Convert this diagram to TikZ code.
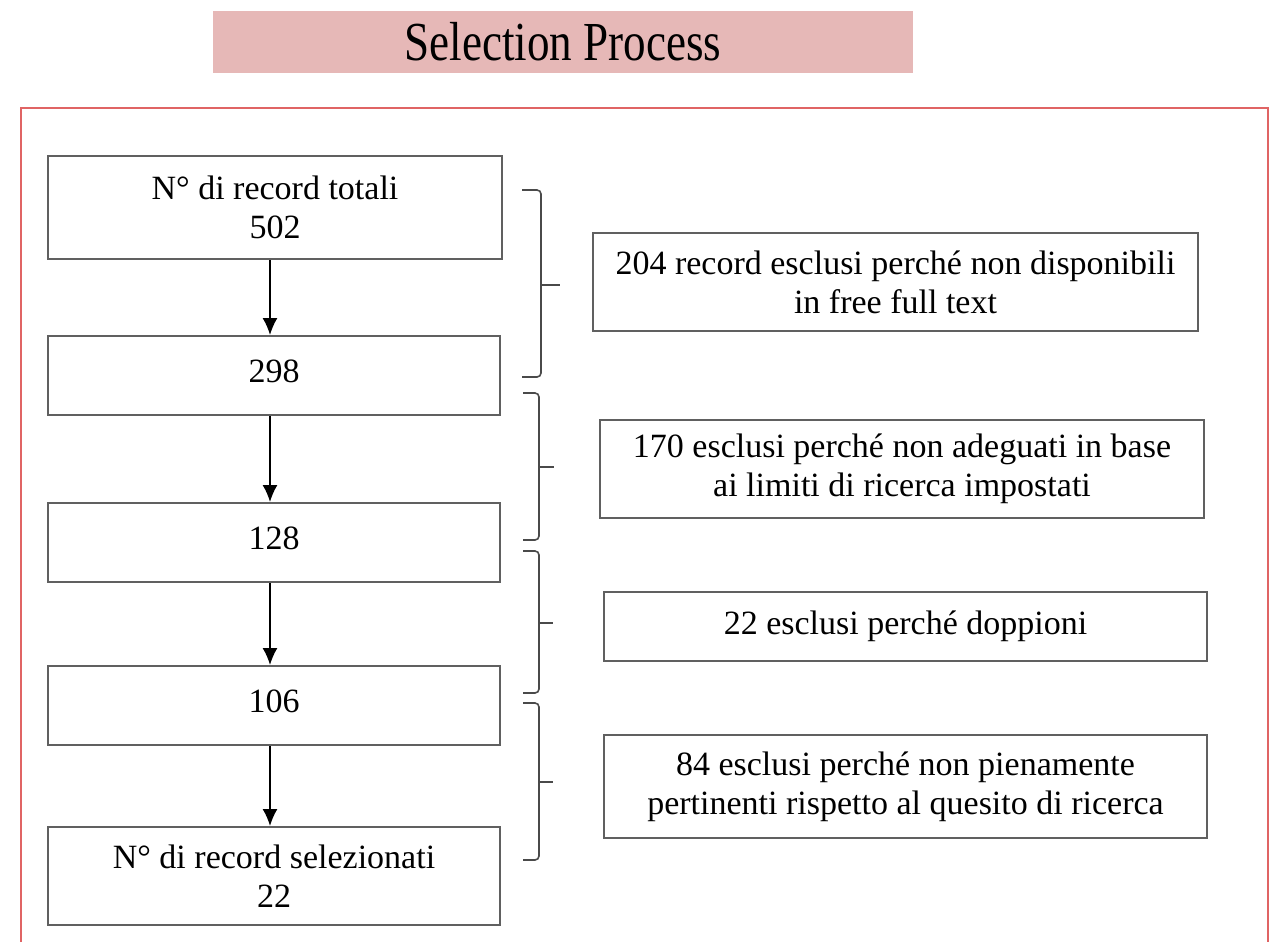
\documentclass[tikz,border=0pt]{standalone}
\usepackage{fontspec}
\setmainfont{Liberation Serif}
\usetikzlibrary{arrows.meta}
\definecolor{boxgray}{HTML}{606060}
\definecolor{bracegray}{HTML}{4A4A4A}
\definecolor{framered}{HTML}{E06464}
\definecolor{titlepink}{HTML}{E6B8B7}
\tikzset{
  recbox/.style={draw=boxgray, line width=1pt, align=center, inner sep=0pt,
    font=\fontsize{17}{19.5}\selectfont},
  numbox/.style={recbox, minimum width=226pt, minimum height=39.5pt, text depth=4pt},
}
\begin{document}
\begin{tikzpicture}[x=0.5pt,y=-0.5pt,>={Latex[length=8.5pt,width=7.5pt]}]
\useasboundingbox (0,0) rectangle (1277,942);
% title bar and frame
\node[fill=titlepink, minimum width=350pt, minimum height=31pt, inner sep=0pt] (title) at (563,42)
  {\scalebox{0.82}[1]{\fontsize{27.5}{30}\selectfont Selection Process}};
\draw[framered, line width=0.6pt] (21,942)--(21,108)--(1268,108)--(1268,942);

% left column
\node[recbox, minimum width=227pt, minimum height=51.5pt] (n0) at (275,207.5) {N° di record totali\\502};
\node[numbox] (n1) at (274,375.5) {298};
\node[numbox] (n2) at (274,542.5) {128};
\node[numbox] (n3) at (274,705.5) {106};
\node[recbox, minimum width=226pt, minimum height=49pt] (n4) at (274,876) {N° di record selezionati\\22};

\foreach \a/\b in {n0/n1,n1/n2,n2/n3,n3/n4}
{
    \draw[->, line width=0.8pt] ([xshift=-2pt]\b.north |- \a.south)--([xshift=-2pt]\b.north);
}

% excluded records
\node[recbox, minimum width=302.5pt, minimum height=49pt] (e0) at (895.5,282)
  {204 record esclusi perché non disponibili\\in free full text};
\node[recbox, minimum width=302pt, minimum height=49pt] (e1) at (902,469)
  {170 esclusi perché non adeguati in base\\ai limiti di ricerca impostati};
\node[recbox, minimum width=301.5pt, minimum height=34.5pt] (e2) at (905.5,626.5)
  {22 esclusi perché doppioni};
\node[recbox, minimum width=301.5pt, minimum height=51.5pt] (e3) at (905.5,786.5)
  {84 esclusi perché non pienamente\\pertinenti rispetto al quesito di ricerca};

% brackets between the columns
\foreach \ya/\yb/\ym/\xa/\xb/\xc in {190/377/285/522/541/560,393/540/467/523/539/554,551/693/623/523/539/553,703/860/782/523/539/553}
{
    \draw[bracegray, line width=0.8pt, rounded corners=2pt] (\xa,\ya)--(\xb,\ya)--(\xb,\yb)--(\xa,\yb);
    \draw[bracegray, line width=0.8pt] (\xb,\ym)--(\xc,\ym);
}
\end{tikzpicture}
\end{document}
